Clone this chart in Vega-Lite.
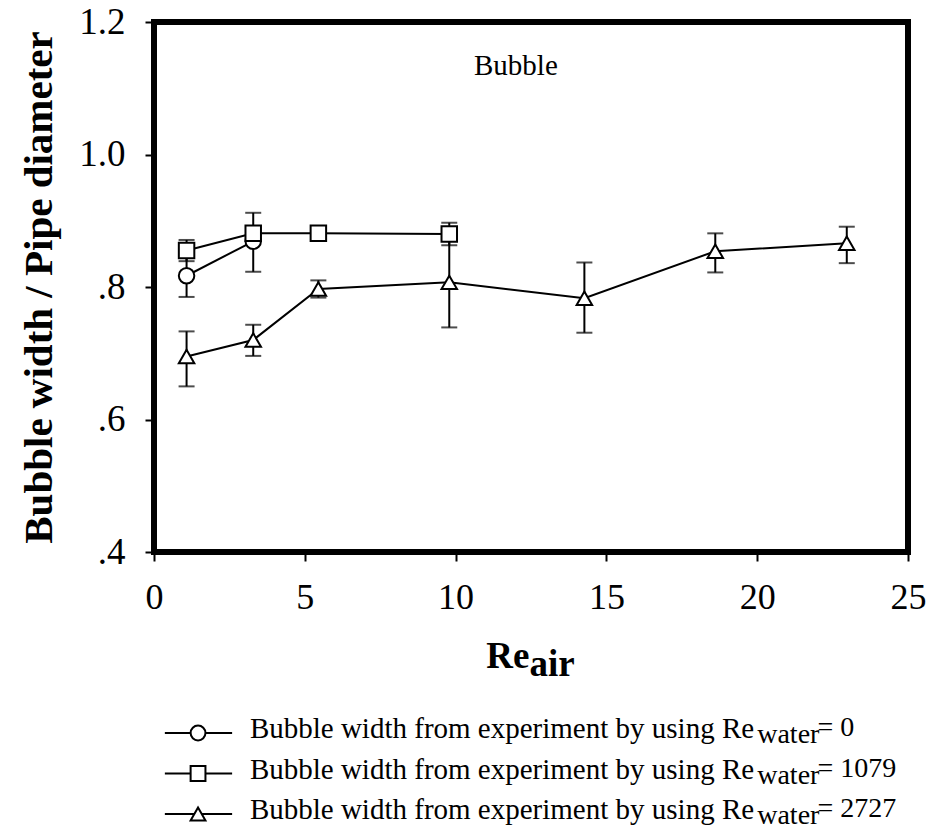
{
  "$schema": "https://vega.github.io/schema/vega-lite/v6.json",
  "width": 754,
  "height": 530,
  "autosize": {"type": "none"},
  "padding": {"left": 154, "top": 22, "right": 25, "bottom": 278},
  "background": "white",
  "config": {
    "font": "Liberation Serif, Times New Roman, serif",
    "view": {"stroke": null},
    "text": {"font": "Liberation Serif, Times New Roman, serif"},
    "axis": {"grid": false, "domain": false, "tickColor": "black", "tickWidth": 2, "labelColor": "black", "titleColor": "black", "labelFont": "Liberation Serif, Times New Roman, serif", "titleFont": "Liberation Serif, Times New Roman, serif"}
  },
  "datasets": {
    "pts": [
      {"series": "0", "x": 1.08, "y": 0.817, "lo": 0.785, "hi": 0.849},
      {"series": "0", "x": 3.29, "y": 0.869, "lo": 0.823, "hi": 0.912},
      {"series": "1079", "x": 1.08, "y": 0.855, "lo": 0.839, "hi": 0.871},
      {"series": "1079", "x": 3.29, "y": 0.881, "lo": null, "hi": null},
      {"series": "1079", "x": 5.45, "y": 0.881, "lo": null, "hi": null},
      {"series": "1079", "x": 9.79, "y": 0.880, "lo": 0.863, "hi": 0.897},
      {"series": "2727", "x": 1.08, "y": 0.695, "lo": 0.650, "hi": 0.733},
      {"series": "2727", "x": 3.29, "y": 0.720, "lo": 0.696, "hi": 0.743},
      {"series": "2727", "x": 5.45, "y": 0.797, "lo": 0.784, "hi": 0.810},
      {"series": "2727", "x": 9.79, "y": 0.807, "lo": 0.739, "hi": 0.875},
      {"series": "2727", "x": 14.27, "y": 0.783, "lo": 0.731, "hi": 0.837},
      {"series": "2727", "x": 18.61, "y": 0.854, "lo": 0.822, "hi": 0.881},
      {"series": "2727", "x": 22.97, "y": 0.866, "lo": 0.836, "hi": 0.891}
    ],
    "legend": [
      {"series": "0", "label": "Bubble width from experiment by using Re", "sub": "water", "val": "= 0"},
      {"series": "1079", "label": "Bubble width from experiment by using Re", "sub": "water", "val": "= 1079"},
      {"series": "2727", "label": "Bubble width from experiment by using Re", "sub": "water", "val": "= 2727"}
    ],
    "one": [{"k": 1}]
  },
  "layer": [
    {
      "data": {"name": "pts"},
      "layer": [
        {
          "mark": {"type": "line", "color": "black", "strokeWidth": 2},
          "encoding": {
            "x": {"field": "x", "type": "quantitative", "scale": {"domain": [0, 25], "nice": false, "zero": false},
              "axis": {"values": [0, 5, 10, 15, 20, 25], "tickSize": 9, "labelFontSize": 36, "labelPadding": 19, "title": null, "labelFlush": false}},
            "y": {"field": "y", "type": "quantitative", "scale": {"domain": [0.4, 1.2], "nice": false, "zero": false},
              "axis": {"values": [0.4, 0.6, 0.8, 1.0, 1.2], "tickSize": 9, "labelFontSize": 37, "labelPadding": 20, "labelFlush": false,
                "labelExpr": "datum.value < 1 ? replace(format(datum.value, '.1f'), '0.', '.') : format(datum.value, '.1f')",
                "title": "Bubble width / Pipe diameter", "titleFontSize": 41, "titleFontWeight": "bold", "titlePadding": 18}},
            "detail": {"field": "series", "type": "nominal"}
          }
        },
        {
          "transform": [{"filter": "datum.lo != null"}],
          "mark": {"type": "rule", "color": "black", "strokeWidth": 2},
          "encoding": {
            "x": {"field": "x", "type": "quantitative"},
            "y": {"field": "lo", "type": "quantitative"},
            "y2": {"field": "hi"}
          }
        },
        {
          "transform": [{"filter": "datum.lo != null"}],
          "mark": {"type": "tick", "orient": "horizontal", "color": "black", "size": 16, "thickness": 2},
          "encoding": {
            "x": {"field": "x", "type": "quantitative"},
            "y": {"field": "lo", "type": "quantitative"}
          }
        },
        {
          "transform": [{"filter": "datum.hi != null"}],
          "mark": {"type": "tick", "orient": "horizontal", "color": "black", "size": 16, "thickness": 2},
          "encoding": {
            "x": {"field": "x", "type": "quantitative"},
            "y": {"field": "hi", "type": "quantitative"}
          }
        },
        {
          "mark": {"type": "point", "filled": true, "fill": "white", "stroke": "black", "strokeWidth": 2, "size": 240, "opacity": 1},
          "encoding": {
            "x": {"field": "x", "type": "quantitative"},
            "y": {"field": "y", "type": "quantitative"},
            "shape": {"field": "series", "type": "nominal", "scale": {"domain": ["0", "1079", "2727"], "range": ["circle", "square", "triangle-up"]}, "legend": null}
          }
        },
        {
          "data": {"name": "one"},
          "mark": {"type": "rect", "filled": false, "stroke": "black", "strokeWidth": 6, "opacity": 1},
          "encoding": {"x": {"datum": 0}, "x2": {"datum": 25}, "y": {"datum": 0.4}, "y2": {"datum": 1.2}}
        },
        {
          "data": {"name": "one"},
          "mark": {"type": "text", "fontSize": 29, "align": "center", "baseline": "alphabetic", "color": "black"},
          "encoding": {"x": {"datum": 12}, "y": {"datum": 1.12}, "text": {"value": "Bubble"}}
        },
        {
          "data": {"name": "one"},
          "mark": {"type": "text", "fontSize": 37, "fontWeight": "bold", "align": "right", "baseline": "alphabetic", "color": "black"},
          "encoding": {"x": {"datum": 12.45}, "y": {"datum": 0.225}, "text": {"value": "Re"}}
        },
        {
          "data": {"name": "one"},
          "mark": {"type": "text", "fontSize": 37, "fontWeight": "bold", "align": "left", "baseline": "alphabetic", "color": "black", "dy": 8},
          "encoding": {"x": {"datum": 12.45}, "y": {"datum": 0.225}, "text": {"value": "air"}}
        }
      ]
    },
    {
      "data": {"name": "legend"},
      "layer": [
        {
          "mark": {"type": "rule", "color": "black", "strokeWidth": 2},
          "encoding": {
            "x": {"datum": 0.36},
            "x2": {"datum": 2.59},
            "y": {"field": "series", "type": "nominal", "scale": {"type": "point", "domain": ["0", "1079", "2727"], "range": [711, 792], "padding": 0}, "axis": null}
          }
        },
        {
          "mark": {"type": "point", "filled": true, "fill": "white", "stroke": "black", "strokeWidth": 2, "size": 220, "opacity": 1},
          "encoding": {
            "x": {"datum": 1.46},
            "y": {"field": "series", "type": "nominal", "axis": null},
            "shape": {"field": "series", "type": "nominal", "legend": null}
          }
        },
        {
          "mark": {"type": "text", "fontSize": 29, "align": "left", "baseline": "alphabetic", "color": "black", "dy": 5},
          "encoding": {
            "x": {"datum": 3.18},
            "y": {"field": "series", "type": "nominal", "axis": null},
            "text": {"field": "label"}
          }
        },
        {
          "mark": {"type": "text", "fontSize": 28, "align": "left", "baseline": "alphabetic", "color": "black", "dy": 10},
          "encoding": {
            "x": {"datum": 20.0},
            "y": {"field": "series", "type": "nominal", "axis": null},
            "text": {"field": "sub"}
          }
        },
        {
          "mark": {"type": "text", "fontSize": 28, "align": "left", "baseline": "alphabetic", "color": "black", "dy": 3},
          "encoding": {
            "x": {"datum": 22.0},
            "y": {"field": "series", "type": "nominal", "axis": null},
            "text": {"field": "val"}
          }
        }
      ]
    }
  ],
  "resolve": {"scale": {"y": "independent"}}
}
